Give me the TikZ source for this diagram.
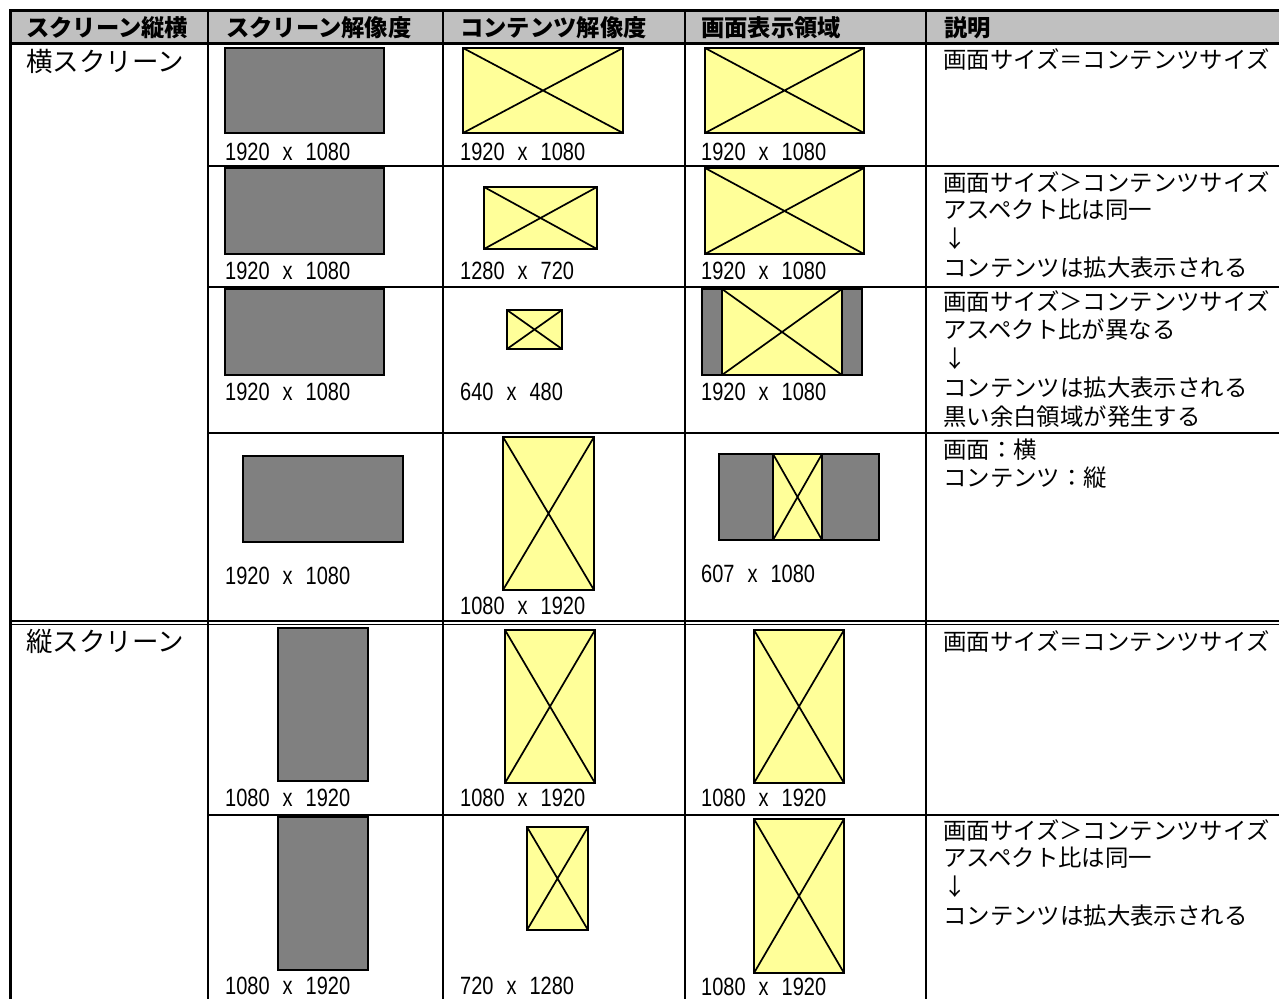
\documentclass[tikz,border=0pt]{standalone}
\usepackage{fontspec}
\newfontfamily\jp{Noto Sans CJK JP}
\newfontfamily\numfont[FakeStretch=0.8]{Liberation Sans}
\usetikzlibrary{fit}
\definecolor{hdr}{HTML}{C0C0C0}
\definecolor{scr}{HTML}{808080}
\definecolor{yel}{HTML}{FFFF99}
\newcommand\res[2]{#1\hspace{13pt}x\hspace{13pt}#2}
\tikzset{
  screen/.style={draw=black, fill=scr, line width=1.8pt, inner sep=0pt, outer sep=0pt},
  content/.style={draw=black, fill=yel, line width=1.8pt, inner sep=0pt, outer sep=0pt},
  xline/.style={line width=1.7pt},
  tline/.style={line width=1.4pt},
  bord/.style={line width=3pt},
  hd/.style={anchor=west, inner sep=0pt, font=\jp\bfseries\fontsize{23.3pt}{23.3pt}\selectfont},
  grp/.style={anchor=west, inner sep=0pt, font=\jp\fontsize{26.5pt}{26.5pt}\selectfont},
  desc/.style={anchor=west, inner sep=0pt, font=\jp\fontsize{23.4pt}{23.4pt}\selectfont},
  lab/.style={anchor=west, inner sep=0pt, font=\numfont\fontsize{25pt}{25pt}\selectfont},
}
\newcommand\scrbox[5]{\node[screen, fit={(#2,#3)(#4,#5)}] (#1) {};}
\newcommand\conbox[5]{\node[content, fit={(#2,#3)(#4,#5)}] (#1) {};
  \draw[xline] (#1.north west) -- (#1.south east) (#1.north east) -- (#1.south west);}
\begin{document}
\begin{tikzpicture}[x=1pt,y=-1pt]
\useasboundingbox (0,0) rectangle (1279,999);
% header background
\fill[hdr] (12,12) rectangle (1279,42);
% grid lines
\foreach \x in {208,443,685,926} \draw[tline] (\x,12) -- (\x,999);
\foreach \y in {166,287,433,815} \draw[tline] (208,\y) -- (1279,\y);
\draw[tline] (12,621) -- (1279,621);
\draw[tline] (12,624.5) -- (1279,624.5);
\draw[bord] (9.3,10.7) -- (1279,10.7);
\draw[bord] (9.3,43) -- (1279,43);
\draw[bord] (10.8,9.2) -- (10.8,999);
% header texts
\node[hd] (h1) at (26,28) {スクリーン縦横};
\node[hd] (h2) at (226,28) {スクリーン解像度};
\node[hd] (h3) at (460,28) {コンテンツ解像度};
\node[hd] (h4) at (701,28) {画面表示領域};
\node[hd] (h5) at (944,28) {説明};
% group labels
\node[grp] (g1) at (26,61) {横スクリーン};
\node[grp] (g2) at (26,641) {縦スクリーン};
% row 1
\scrbox{s1}{225}{48}{384}{133}
\conbox{c1}{463}{48}{623}{133}
\conbox{d1}{705}{48}{864}{133}
\node[lab] (ls1) at (225,151.5) {\res{1920}{1080}};
\node[lab] (lc1) at (460,151.5) {\res{1920}{1080}};
\node[lab] (ld1) at (701,151.5) {\res{1920}{1080}};
\node[desc] (e1a) at (943,60) {画面サイズ＝コンテンツサイズ};
% row 2
\scrbox{s2}{225}{168}{384}{254}
\conbox{c2}{484}{187}{597}{249}
\conbox{d2}{705}{168}{864}{254}
\node[lab] (ls2) at (225,271) {\res{1920}{1080}};
\node[lab] (lc2) at (460,271) {\res{1280}{720}};
\node[lab] (ld2) at (701,271) {\res{1920}{1080}};
\node[desc] (e2a) at (943,182) {画面サイズ＞コンテンツサイズ};
\node[desc] (e2b) at (943,210) {アスペクト比は同一};
\node[desc] (e2c) at (943,239) {↓};
\node[desc] (e2d) at (943,268) {コンテンツは拡大表示される};
% row 3
\scrbox{s3}{225}{289}{384}{375}
\conbox{c3}{507}{310}{562}{349}
\scrbox{d3}{702}{289}{862}{375}
\conbox{d3c}{722}{289}{842}{375}
\node[lab] (ls3) at (225,392) {\res{1920}{1080}};
\node[lab] (lc3) at (460,392) {\res{640}{480}};
\node[lab] (ld3) at (701,392) {\res{1920}{1080}};
\node[desc] (e3a) at (943,301) {画面サイズ＞コンテンツサイズ};
\node[desc] (e3b) at (943,330) {アスペクト比が異なる};
\node[desc] (e3c) at (943,359) {↓};
\node[desc] (e3d) at (943,388) {コンテンツは拡大表示される};
\node[desc] (e3e) at (943,417) {黒い余白領域が発生する};
% row 4
\scrbox{s4}{243}{456}{403}{542}
\conbox{c4}{503}{437}{594}{590}
\scrbox{d4}{719}{454}{879}{540}
\conbox{d4c}{773}{454}{822}{540}
\node[lab] (ls4) at (225,576) {\res{1920}{1080}};
\node[lab] (lc4) at (460,606) {\res{1080}{1920}};
\node[lab] (ld4) at (701,573.5) {\res{607}{1080}};
\node[desc] (e4a) at (943,450) {画面：横};
\node[desc] (e4b) at (943,478) {コンテンツ：縦};
% row 5
\scrbox{s5}{278}{628}{368}{781}
\conbox{c5}{505}{630}{595}{783}
\conbox{d5}{754}{630}{844}{783}
\node[lab] (ls5) at (225,798) {\res{1080}{1920}};
\node[lab] (lc5) at (460,798) {\res{1080}{1920}};
\node[lab] (ld5) at (701,798) {\res{1080}{1920}};
\node[desc] (e5a) at (943,641) {画面サイズ＝コンテンツサイズ};
% row 6
\scrbox{s6}{278}{817}{368}{970}
\conbox{c6}{527}{827}{588}{930}
\conbox{d6}{754}{819}{844}{973}
\node[lab] (ls6) at (225,986) {\res{1080}{1920}};
\node[lab] (lc6) at (460,986) {\res{720}{1280}};
\node[lab] (ld6) at (701,987) {\res{1080}{1920}};
\node[desc] (e6a) at (943,830) {画面サイズ＞コンテンツサイズ};
\node[desc] (e6b) at (943,858) {アスペクト比は同一};
\node[desc] (e6c) at (943,887) {↓};
\node[desc] (e6d) at (943,916) {コンテンツは拡大表示される};
\end{tikzpicture}
\end{document}
